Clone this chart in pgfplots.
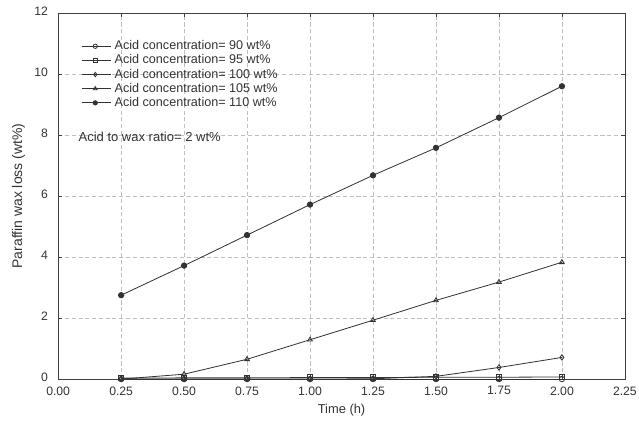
\documentclass[border=0pt]{standalone}
\usepackage{pgfplots}
\pgfplotsset{compat=1.18}
\usepackage{fontspec}
\setmainfont{Liberation Sans}

\begin{document}
\begin{tikzpicture}
\begin{axis}[
    name=ax,
    scale only axis,
    width=418pt, height=270pt,
    xmin=0, xmax=2.25, ymin=0, ymax=12,
    xtick={0,0.25,...,2.25},
    ytick={0,2,...,12},
    xticklabel style={yshift=-2pt, /pgf/number format/.cd, fixed, fixed zerofill, precision=2},
    yticklabel style={yshift=1.5pt, xshift=-4pt},
    /pgf/number format/assume math mode=true,
    tick label style={font=\fontsize{9}{10}\selectfont, text=black!80},
    xlabel style={font=\fontsize{9.5}{11}\selectfont, text=black!80},
    ylabel style={font=\fontsize{10.3}{12}\selectfont, text=black!80},
    xlabel={Time (h)},
    ylabel={Paraffin wax loss (wt\%)},
    grid=major,
    major grid style={densely dashed, black!25},
    axis line style={black!75, thin},
    tick style={black!75},
    tick align=inside,
    major tick length=3pt,
    every axis plot/.append style={black!80, semithick, mark size=2pt},
    legend style={at={(0.034,0.94)}, anchor=north west, draw=none, fill=none,
        font=\fontsize{9.3}{10}\selectfont, text=black!80, row sep=-1.8pt,
        legend cell align=left},
    legend image code/.code={%
        \draw[mark repeat=2, mark phase=2, #1] plot coordinates {(0cm,0cm) (0.34cm,0cm) (0.76cm,0cm)};},
    legend image post style={mark size=1.6pt},
]
\addplot[mark=o] coordinates {(0.25,0) (0.5,0) (0.75,0) (1.0,0) (1.25,0) (1.5,0) (1.75,0) (2.0,0)};
\addlegendentry{Acid concentration= 90 wt\%}
\addplot[mark=square] coordinates {(0.25,0.03) (0.5,0.04) (0.75,0.04) (1.0,0.05) (1.25,0.05) (1.5,0.06) (1.75,0.06) (2.0,0.07)};
\addlegendentry{Acid concentration= 95 wt\%}
\addplot[mark=diamond] coordinates {(0.25,0) (0.5,0) (0.75,0) (1.0,0) (1.25,0.01) (1.5,0.09) (1.75,0.38) (2.0,0.71)};
\addlegendentry{Acid concentration= 100 wt\%}
\addplot[mark=triangle] coordinates {(0.25,0) (0.5,0.16) (0.75,0.65) (1.0,1.29) (1.25,1.93) (1.5,2.58) (1.75,3.18) (2.0,3.83)};
\addlegendentry{Acid concentration= 105 wt\%}
\addplot[mark=*] coordinates {(0.25,2.75) (0.5,3.72) (0.75,4.72) (1.0,5.72) (1.25,6.68) (1.5,7.58) (1.75,8.57) (2.0,9.6)};
\addlegendentry{Acid concentration= 110 wt\%}
\node[anchor=west, font=\fontsize{9.6}{10}\selectfont, text=black!80, inner sep=0pt] at (axis cs:0.08,7.93) {Acid to wax ratio= 2 wt\%};
\end{axis}
% page margins as in the scanned figure
\pgfresetboundingbox
\path ([xshift=-42.9pt,yshift=-35.4pt]ax.south west) rectangle ([xshift=10.4pt,yshift=9.6pt]ax.north east);
\end{tikzpicture}
\end{document}
